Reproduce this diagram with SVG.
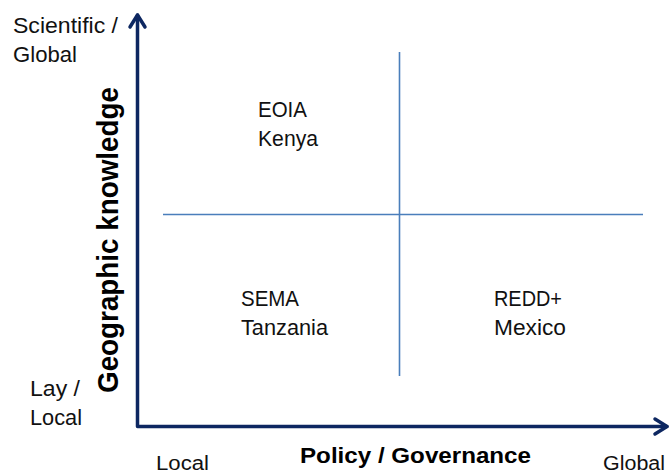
<svg xmlns="http://www.w3.org/2000/svg" width="670" height="475" viewBox="0 0 670 475">
<style>
.t{font-family:"Liberation Sans",Arial,sans-serif;font-size:21.5px;fill:#111}
.s{font-family:"Liberation Sans",Arial,sans-serif;font-size:20px;fill:#111}
.b{font-family:"Liberation Sans",Arial,sans-serif;font-size:22px;font-weight:bold;fill:#000}
.v{font-family:"Liberation Sans",Arial,sans-serif;font-size:29px;font-weight:bold;fill:#000}
.ax{stroke:#0d2761;stroke-width:3.5;fill:none;stroke-linecap:round;stroke-linejoin:round}
.q{stroke:#4a7ebb;stroke-width:1.6;fill:none}
</style>
<rect width="670" height="475" fill="#fff"/>
<g id="connectors">
<line class="q" x1="399.5" y1="52" x2="399.5" y2="376"/>
<line class="q" x1="163" y1="214.5" x2="643" y2="214.5"/>
<path class="ax" d="M137.5,15 V426.5 H667"/>
<path class="ax" d="M130,27 L137.5,15 L145,27"/>
<path class="ax" d="M655,419 L667,426.5 L655,434"/>
</g>
<g id="y-axis-label">
<text class="v" transform="translate(117.5,393) rotate(-90)" textLength="306" lengthAdjust="spacingAndGlyphs">Geographic knowledge</text>
</g>
<g id="x-axis-label">
<text class="b" x="300" y="463" textLength="231" lengthAdjust="spacingAndGlyphs">Policy / Governance</text>
</g>
<g id="y-top">
<text class="t" x="13" y="33" textLength="105" lengthAdjust="spacingAndGlyphs">Scientific /</text>
<text class="t" x="13" y="62" textLength="64" lengthAdjust="spacingAndGlyphs">Global</text>
</g>
<g id="y-bottom">
<text class="t" x="30" y="396" textLength="50" lengthAdjust="spacingAndGlyphs">Lay /</text>
<text class="t" x="30" y="425" textLength="52" lengthAdjust="spacingAndGlyphs">Local</text>
</g>
<g id="x-left">
<text class="s" x="156" y="470" textLength="53" lengthAdjust="spacingAndGlyphs">Local</text>
</g>
<g id="x-right">
<text class="s" x="603" y="470" textLength="62" lengthAdjust="spacingAndGlyphs">Global</text>
</g>
<g id="eoia">
<text class="t" x="258" y="117" textLength="49" lengthAdjust="spacingAndGlyphs">EOIA</text>
<text class="t" x="258" y="146" textLength="60" lengthAdjust="spacingAndGlyphs">Kenya</text>
</g>
<g id="sema">
<text class="t" x="241" y="306" textLength="58" lengthAdjust="spacingAndGlyphs">SEMA</text>
<text class="t" x="241" y="335" textLength="87" lengthAdjust="spacingAndGlyphs">Tanzania</text>
</g>
<g id="redd">
<text class="t" x="494" y="306" textLength="68" lengthAdjust="spacingAndGlyphs">REDD+</text>
<text class="t" x="494" y="335" textLength="72" lengthAdjust="spacingAndGlyphs">Mexico</text>
</g>
</svg>
